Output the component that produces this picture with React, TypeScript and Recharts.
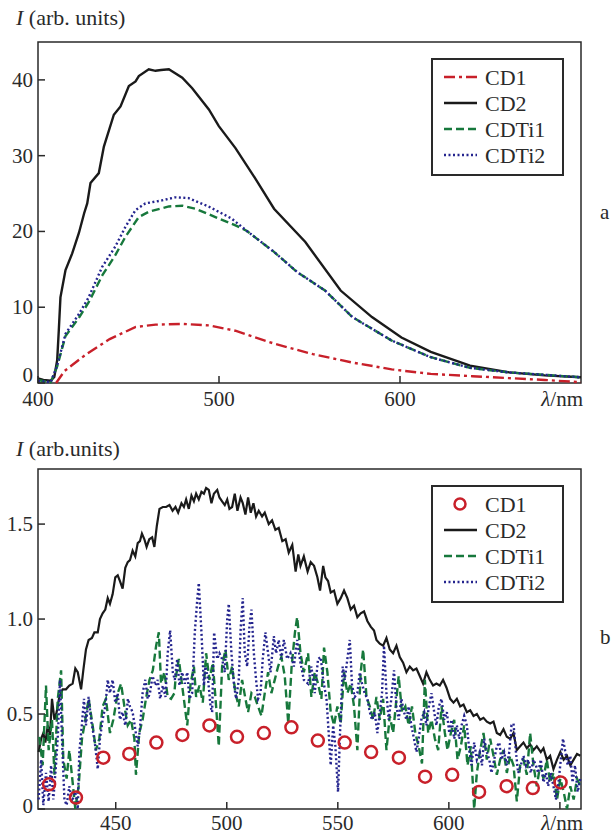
import { LineChart, ComposedChart, Line, Scatter, XAxis, YAxis, ReferenceArea, Legend } from 'recharts';

const SERIF = "'Liberation Serif', 'Times New Roman', serif";
const INK = '#2a2a2a';
const RED = '#c8202a';
const GREEN = '#17783c';
const BLUE = '#24248e';
const BLACK = '#1a1a1a';

// panel a: smooth spectra, [wavelength nm, intensity]
const cd1Top: [number, number][] = [
  [410, 0], [414.7, 1.6], [426.7, 3.8], [439.6, 5.8], [454, 7.4], [465, 7.7], [479.7, 7.8], [494.4, 7.6],
  [509, 6.9], [530.4, 5.2], [552, 3.8], [573.7, 2.7], [595.4, 1.8], [617, 1.2], [640, 0.9], [660, 0.65],
  [680, 0.4], [700, 0.1],
];
const cd2Top: [number, number][] = [
  [400, 0.6], [403, 0.4], [407, 0.3], [409, 0.8], [410.6, 3], [411.5, 7], [412.4, 11.3], [415.2, 14.9],
  [418.9, 17.1], [422.6, 19.8], [425.5, 22.4], [427.2, 23.7], [429, 26.4], [433.6, 27.7], [436.4, 31.2], [441.9, 35.4],
  [445.6, 36.5], [450.2, 39.2], [453.9, 39.8], [455.7, 40.5], [461.2, 41.4], [464.9, 41.2], [468, 41.3],
  [472.3, 41.4], [479.7, 40.3], [485.2, 38.9], [494.4, 36.1], [499.9, 33.9], [509.1, 31], [520, 27],
  [530.4, 23], [547.7, 18.6], [567.2, 12.2], [584.5, 8.7], [600.8, 6], [617, 4.1], [638.7, 2.3],
  [660.4, 1.4], [680, 1.0], [700, 0.75],
];
const cdti1Top: [number, number][] = [
  [400, 0.4], [404, 0.2], [407, 0.1], [410.6, 2.2], [415.2, 6.2], [422.6, 8.6], [428.1, 10.7], [435.5, 14.2],
  [442.8, 16.9], [448.3, 19.3], [455.7, 21.9], [461.2, 22.6], [472.3, 23.3], [479.7, 23.4], [487, 23.0],
  [498, 21.9], [509.1, 20.8], [515.2, 20.1], [530.4, 17.3], [543.4, 14.6], [558.6, 12.2], [573.7, 8.7],
  [595.4, 5.6], [617, 3.4], [638.7, 2.0], [660, 1.4], [700, 0.75],
];
const cdti2Top: [number, number][] = [
  [400, 0.3], [404, 0.2], [407, 0.1], [410.6, 2.3], [415.2, 6.5], [422.6, 9.1], [428, 11.3], [435.4, 15.3],
  [442.7, 18], [448.3, 20.6], [453.8, 22.8], [459.3, 23.7], [468.5, 24.1], [475.8, 24.5], [483.2, 24.4],
  [494.2, 23.3], [507, 21.7], [515.2, 20.1], [530.4, 17.3], [543.4, 14.6], [558.6, 12.2], [573.7, 8.7],
  [595.4, 5.6], [617, 3.4], [638.7, 2.0], [660, 1.4], [700, 0.75],
];
const topXTicks = [400, 500, 600, 700];
const topYTicks = [0, 10, 20, 30, 40];

// panel b: noisy spectra
const cd1Bottom: [number, number][] = [
  [420, 0.13], [432.1, 0.06], [444.4, 0.27], [456.1, 0.29], [468.3, 0.35], [480, 0.39], [492.2, 0.44],
  [504.6, 0.38], [516.7, 0.4], [529.1, 0.43], [541, 0.36], [553.1, 0.35], [565, 0.3], [577.5, 0.27],
  [589.3, 0.17], [601.5, 0.18], [613.6, 0.09], [626, 0.12], [637.8, 0.11], [650.3, 0.14],
];
const cd2Bottom: [number, number][] = [
  [415.3, 0.3], [416.4, 0.37], [417.4, 0.4], [418.3, 0.35], [419.4, 0.44], [420.4, 0.39], [421.3, 0.58],
  [422.4, 0.47], [423.4, 0.51], [424.6, 0.59], [426.1, 0.63], [427.6, 0.63], [429.1, 0.65], [430.6, 0.66],
  [431.8, 0.74], [432.9, 0.72], [434.4, 0.63], [435.4, 0.73], [436.6, 0.84], [437.8, 0.89], [439.3, 0.9],
  [440.4, 0.93], [441.9, 0.93], [442.9, 1.0], [444.1, 1.03], [445.3, 1.05], [446.4, 1.11], [447.4, 1.08],
  [448.6, 1.13], [449.8, 1.22], [450.9, 1.23], [451.9, 1.2], [453.1, 1.16], [454.3, 1.27], [455.4, 1.3],
  [456.4, 1.31], [457.6, 1.36], [458.8, 1.33], [459.9, 1.4], [460.9, 1.41], [461.8, 1.45], [462.9, 1.42],
  [463.9, 1.38], [465.1, 1.42], [466.4, 1.43], [467.4, 1.38], [468.5, 1.49], [469.7, 1.58], [471.2, 1.59],
  [472.7, 1.59], [474.2, 1.6], [475.6, 1.57], [476.9, 1.59], [478.1, 1.56], [479.6, 1.61], [480.7, 1.59],
  [481.7, 1.63], [482.9, 1.58], [484.1, 1.65], [485.2, 1.62], [486.2, 1.66], [487.4, 1.63], [488.6, 1.67],
  [489.7, 1.66], [490.7, 1.69], [491.9, 1.68], [493.1, 1.61], [494.2, 1.66], [495.7, 1.68], [496.7, 1.64],
  [497.9, 1.62], [499.1, 1.6], [500.2, 1.63], [501.2, 1.58], [502.4, 1.59], [503.6, 1.66], [504.8, 1.57],
  [506.2, 1.64], [507.2, 1.61], [508.4, 1.55], [509.6, 1.64], [510.8, 1.56], [512, 1.61], [513.2, 1.54],
  [514.4, 1.57], [515.9, 1.54], [517.1, 1.56], [518.9, 1.5], [520.4, 1.52], [521.9, 1.47], [523.4, 1.48],
  [525, 1.41], [526.5, 1.42], [527.9, 1.35], [529.5, 1.39], [531, 1.25], [532.2, 1.34], [533.2, 1.28],
  [534.7, 1.33], [536.4, 1.25], [537.8, 1.3], [539.3, 1.28], [540.8, 1.22], [542, 1.15], [543.4, 1.28],
  [544.4, 1.22], [545.6, 1.2], [546.8, 1.14], [548.3, 1.15], [549.8, 1.08], [551.3, 1.11], [552.8, 1.15],
  [554.3, 1.11], [555.8, 1.05], [557.3, 1.07], [558.8, 1.01], [560.3, 1.03], [561.8, 1.04], [563.3, 0.99],
  [564.8, 0.96], [566.3, 0.94], [567.4, 0.89], [568.9, 0.87], [570.4, 0.86], [571.9, 0.9], [573.4, 0.84],
  [574.9, 0.82], [576.4, 0.86], [577.9, 0.8], [579.4, 0.77], [580.9, 0.72], [582.4, 0.75], [583.9, 0.73],
  [585.4, 0.74], [586.9, 0.7], [588.4, 0.66], [589.9, 0.72], [591.4, 0.68], [592.9, 0.65], [594.4, 0.66],
  [595.9, 0.65], [597.4, 0.68], [598.9, 0.64], [600.6, 0.58], [602.1, 0.56], [603.6, 0.58], [605.1, 0.54],
  [606.6, 0.55], [608.1, 0.51], [609.6, 0.52], [611.1, 0.49], [612.6, 0.5], [614.1, 0.47], [615.6, 0.48],
  [617.1, 0.46], [618.6, 0.45], [620.1, 0.46], [621.6, 0.4], [623.1, 0.39], [624.6, 0.42], [626.1, 0.38],
  [627.6, 0.37], [629.1, 0.4], [630.6, 0.31], [632.1, 0.33], [633.6, 0.35], [635.1, 0.32], [636.6, 0.34],
  [638.1, 0.31], [639.6, 0.33], [641.4, 0.3], [642.6, 0.32], [644.1, 0.26], [645.6, 0.28], [647.1, 0.21],
  [648.7, 0.26], [650.2, 0.3], [651.7, 0.26], [653.2, 0.28], [654.7, 0.23], [656.2, 0.26], [657.7, 0.29],
  [659.2, 0.28],
];
const cdti1Bottom: [number, number][] = [
  [415.6, 0.38], [417.1, 0.23], [418.6, 0.65], [419.8, 0.31], [421.3, 0.47], [422.4, 0.18], [423.9, 0.58],
  [425.4, 0.73], [426.4, 0.26], [427.9, 0.16], [429.1, 0.31], [430.6, 0.14], [431.8, 0], [433.3, 0.12],
  [434.8, 0.37], [436.3, 0.47], [437.8, 0.58], [439.6, 0.44], [441.1, 0.31], [442.6, 0.37], [444.1, 0.54],
  [445.6, 0.58], [447.4, 0.4], [448.9, 0.47], [450.9, 0.61], [452.4, 0.66], [453.9, 0.54], [455.4, 0.44],
  [456.9, 0.47], [458.4, 0.37], [459.1, 0.18], [460.6, 0.4], [462.1, 0.47], [463.6, 0.58], [465.2, 0.68],
  [466.7, 0.73], [468.2, 0.86], [469.4, 0.93], [470.4, 0.66], [471.9, 0.72], [473.4, 0.59], [474.9, 0.58],
  [476.4, 0.61], [476.9, 0.68], [478.4, 0.79], [479.9, 0.65], [482.2, 0.44], [483.7, 0.66], [485.2, 0.75],
  [486.2, 0.59], [487.7, 0.65], [489.2, 0.56], [490.7, 0.82], [492.2, 0.68], [493.7, 0.77], [495.2, 0.54],
  [496.4, 0.33], [497.9, 0.75], [499.4, 0.84], [500.9, 0.68], [502.4, 0.75], [503.9, 0.61], [505.4, 0.54],
  [506.9, 0.68], [508.4, 0.58], [509.6, 0.51], [511.1, 0.61], [512.6, 0.59], [514.1, 0.54], [515.6, 0.49],
  [517.1, 0.61], [518.6, 0.72], [520.1, 0.61], [521.6, 0.68], [523.1, 0.75], [524.6, 0.8], [526.1, 0.7],
  [527.7, 0.45], [529.2, 0.75], [530.7, 0.93], [531.7, 1.01], [533.2, 0.82], [534.7, 0.72], [536.6, 0.82],
  [538.1, 0.59], [539.6, 0.72], [541.1, 0.66], [542.6, 0.58], [543.8, 0.85], [545.3, 0.72], [546.8, 0.51],
  [548.3, 0.44], [549.8, 0.54], [551.3, 0.45], [552.8, 0.72], [554.3, 0.61], [555.8, 0.66], [557.3, 0.54],
  [558.8, 0.31], [560.3, 0.72], [561.4, 0.84], [562.9, 0.59], [564.4, 0.54], [565.9, 0.47], [567.4, 0.59],
  [568.9, 0.47], [570.4, 0.58], [571.9, 0.31], [573.4, 0.49], [574.9, 0.4], [576.4, 0.58], [577.4, 0.7],
  [578.9, 0.51], [580.4, 0.54], [581.9, 0.44], [583.4, 0.54], [584.9, 0.4], [586.4, 0.33], [587.9, 0.24],
  [589.2, 0.68], [590.7, 0.4], [592.2, 0.47], [593.7, 0.37], [595.2, 0.31], [596.7, 0.54], [598.2, 0.4],
  [599.4, 0.31], [600.9, 0.4], [602.4, 0.47], [603.9, 0.26], [605.4, 0.33], [606.9, 0.44], [608.4, 0.23],
  [609.9, 0.33], [611.4, 0], [612.6, 0.19], [614.1, 0.31], [615.6, 0.4], [617.1, 0.26], [618.6, 0.37],
  [620.1, 0.28], [621.6, 0.18], [623.1, 0.26], [624.6, 0.31], [626.1, 0.19], [627.6, 0.28], [629.1, 0.23],
  [630.6, 0.04], [632.1, 0.23], [633.6, 0.26], [635.1, 0.18], [636.6, 0.4], [638.1, 0.23], [639.6, 0.12],
  [641.1, 0.23], [642.6, 0.16], [644.1, 0.26], [645.6, 0.14], [647.1, 0.19], [648.7, 0.05], [650.2, 0.16],
  [651.7, 0.09], [653.2, 0], [654.7, 0.12], [656.2, 0.05], [657.7, 0.16], [659.2, 0.12],
];
const cdti2Bottom: [number, number][] = [
  [415.3, 0.05], [416.4, 0.26], [417.4, 0.02], [418.6, 0.19], [419.8, 0.04], [420.9, 0.23], [421.9, 0.05],
  [423.1, 0.23], [424, 0.4], [424.9, 0.68], [425.8, 0.37], [426.9, 0.05], [427.9, 0.02], [429.1, 0.12],
  [430.3, 0.04], [431.8, 0.09], [432.9, 0], [433.6, 0.3], [434.8, 0.45], [435.7, 0.58], [436.6, 0.44],
  [437.8, 0.59], [438.9, 0.47], [439.9, 0.4], [440.8, 0.33], [441.9, 0.21], [442.9, 0.37], [444.1, 0.47],
  [445.3, 0.54], [446.4, 0.68], [447.4, 0.61], [448.6, 0.68], [449.8, 0.56], [450.9, 0.61], [451.9, 0.47],
  [453.1, 0.51], [454.3, 0.44], [455.5, 0.58], [456.4, 0.54], [457.6, 0.51], [458.8, 0.42], [459.9, 0.33],
  [460.9, 0.42], [462.1, 0.61], [463.3, 0.68], [464.4, 0.58], [465.4, 0.61], [466.6, 0.7], [467.9, 0.65],
  [468.9, 0.68], [470, 0.58], [471.2, 0.65], [472.4, 0.59], [473.4, 0.82], [474.5, 0.94], [475.7, 0.72],
  [476.6, 0.68], [477.7, 0.79], [478.7, 0.65], [479.9, 0.72], [481.1, 0.66], [482.2, 0.72], [483.2, 0.58],
  [484.4, 0.61], [485.6, 0.93], [486.7, 1.1], [487.4, 1.19], [488.6, 0.93], [489.7, 0.65], [490.4, 0.75],
  [491.6, 0.68], [492.7, 0.54], [493.4, 0.51], [494.3, 0.93], [495.7, 0.79], [496.7, 0.82], [497.9, 0.79],
  [499.1, 0.72], [500.2, 1.0], [500.9, 1.08], [502.1, 0.82], [503.2, 0.66], [504.2, 0.58], [505.4, 0.68],
  [506.3, 0.96], [507.2, 1.11], [508.1, 0.82], [509.2, 0.75], [510.2, 0.96], [511.1, 1.05], [512.2, 0.82],
  [513.2, 0.68], [514.1, 0.58], [515.2, 0.61], [516.2, 0.79], [517.4, 0.93], [518.6, 0.82], [519.7, 0.72],
  [521.2, 0.91], [522.2, 0.82], [523.4, 0.89], [524.6, 0.79], [525.7, 0.89], [527.2, 0.79], [528.7, 0.82],
  [530.2, 0.75], [531.7, 0.89], [533.2, 0.77], [534.7, 0.68], [536.6, 0.66], [538.1, 0.75], [539.6, 0.61],
  [541.1, 0.79], [542.3, 0.8], [543.4, 0.68], [544.9, 0.58], [545.9, 0.4], [546.8, 0.23], [547.9, 0.44],
  [548.9, 0.33], [550.1, 0.09], [551, 0.4], [552.2, 0.75], [553.1, 0.68], [554.3, 0.79], [555.4, 0.89],
  [556.4, 0.65], [557.6, 0.59], [558.8, 0.61], [559.9, 0.72], [560.9, 0.66], [562.1, 0.61], [563.3, 0.58],
  [564.4, 0.51], [565.4, 0.47], [566.6, 0.51], [567.8, 0.4], [568.9, 0.51], [569.9, 0.61], [570.8, 0.86],
  [571.9, 0.61], [572.9, 0.47], [574.1, 0.58], [575.3, 0.73], [576.4, 0.54], [577.4, 0.47], [578.6, 0.58],
  [579.8, 0.51], [580.9, 0.47], [581.9, 0.54], [583.1, 0.44], [584.3, 0.37], [585.4, 0.3], [586.4, 0.37],
  [587.6, 0.47], [588.9, 0.51], [589.9, 0.44], [591, 0.54], [592.2, 0.61], [593.4, 0.51], [594.4, 0.44],
  [595.5, 0.54], [596.7, 0.58], [597.9, 0.47], [599.1, 0.51], [600.2, 0.4], [601.2, 0.47], [602.4, 0.37],
  [603.6, 0.44], [604.7, 0.37], [605.7, 0.44], [606.9, 0.49], [608.1, 0.44], [609.2, 0.31], [610.2, 0.23],
  [611.4, 0.35], [612.6, 0.26], [613.9, 0.3], [614.9, 0.23], [615.9, 0.37], [617.1, 0.3], [618.2, 0.26],
  [619.2, 0.19], [620.4, 0.26], [621.6, 0.33], [622.7, 0.35], [623.7, 0.26], [624.9, 0.3], [626.1, 0.23],
  [627.2, 0.3], [628.2, 0.44], [629.1, 0.45], [630.2, 0.3], [631.2, 0.19], [632.4, 0.23], [633.6, 0.28],
  [634.7, 0.23], [635.7, 0.26], [636.9, 0.19], [638.1, 0.26], [639.2, 0.23], [640.2, 0.19], [641.4, 0.26],
  [642.6, 0.14], [643.7, 0.19], [644.7, 0.12], [645.9, 0.19], [647.1, 0.12], [648.2, 0.05], [649.2, 0.12],
  [650.4, 0.26], [651.4, 0.37], [652.3, 0.31], [653.5, 0.23], [654.7, 0.28], [655.7, 0.14], [656.8, 0.23],
  [658, 0.09], [659.2, 0.16],
];
const bottomXTicks = [450, 500, 550, 600, 650, 659.5];
const bottomYTicks = [0, 0.5, 1, 1.5];

const toPts = (arr: [number, number][]) => arr.map(([x, y]) => ({ x, y }));

type Entry = { name: string; color: string; dash?: string; marker?: boolean };

const topLegend: Entry[] = [
  { name: 'CD1', color: RED, dash: '11 4 3 4' },
  { name: 'CD2', color: BLACK },
  { name: 'CDTi1', color: GREEN, dash: '8 4' },
  { name: 'CDTi2', color: BLUE, dash: '2 2.5' },
];
const bottomLegend: Entry[] = [
  { name: 'CD1', color: RED, marker: true },
  { name: 'CD2', color: BLACK },
  { name: 'CDTi1', color: GREEN, dash: '8 4' },
  { name: 'CDTi2', color: BLUE, dash: '2 2.5' },
];

const txt = { fontFamily: SERIF };

/** Boxed legend, drawn as svg so the line samples keep their dash pattern. */
function LegendBox({ entries }: { entries: Entry[] }) {
  return (
    <svg width={133} height={118} style={{ display: 'block' }}>
      <rect x={1} y={1} width={131} height={116} fill="#fff" stroke={INK} strokeWidth={2} />
      {entries.map((e, i) => {
        const cy = 19 + i * 26;
        return (
          <g key={e.name}>
            {e.marker ? (
              <circle cx={29} cy={cy} r={5.5} fill="none" stroke={e.color} strokeWidth={2.5} />
            ) : (
              <line x1={13} y1={cy} x2={46} y2={cy} stroke={e.color} strokeWidth={2.4} strokeDasharray={e.dash} />
            )}
            <text x={54} y={cy} dominantBaseline="central" style={txt} fontSize={22} fill={INK}>
              {e.name}
            </text>
          </g>
        );
      })}
    </svg>
  );
}

function XTick({ x, y, payload, last, labelDy }: any) {
  const v = payload.value;
  if (v === last) {
    return (
      <text x={x + 2} y={y + labelDy} textAnchor="end" style={txt} fontSize={21} fill={INK}>
        <tspan fontStyle="italic">λ</tspan>/nm
      </text>
    );
  }
  return (
    <g>
      <line x1={x} y1={y} x2={x} y2={y - 7} stroke={INK} strokeWidth={1.5} />
      {v !== 650 && (
        <text x={x} y={y + labelDy} textAnchor="middle" style={txt} fontSize={21} fill={INK}>
          {v}
        </text>
      )}
    </g>
  );
}

function YTick({ x, y, payload, fmt, zeroLift }: any) {
  const lift = payload.value === 0 ? zeroLift : 0;
  return (
    <g>
      <line x1={x} y1={y} x2={x + 7} y2={y} stroke={INK} strokeWidth={1.5} />
      <text x={x - 5} y={y + lift} textAnchor="end" dominantBaseline="central" style={txt} fontSize={21} fill={INK}>
        {fmt(payload.value)}
      </text>
    </g>
  );
}

function AxisTitle({ top, text }: { top: number; text: string }) {
  return (
    <div style={{ position: 'absolute', left: 16, top, fontFamily: SERIF, fontSize: 22, color: INK, whiteSpace: 'nowrap', lineHeight: '24px' }}>
      <i>I</i> {text}
    </div>
  );
}

export default function App() {
  const legendWrap = { position: 'absolute' as const, left: 431, width: 133, height: 118 };
  return (
    <div style={{ position: 'absolute', left: 0, top: 0, width: 613, height: 834, background: '#fff', overflow: 'hidden' }}>
      <AxisTitle top={6} text="(arb. units)" />
      <div style={{ position: 'absolute', left: 0, top: 0 }}>
        <LineChart width={613} height={420} margin={{ top: 42, right: 32, bottom: 7, left: 0 }}>
          <XAxis
            type="number"
            dataKey="x"
            domain={[400, 700]}
            ticks={topXTicks}
            interval={0}
            axisLine={false}
            tickLine={false}
            tickSize={0}
            tickMargin={0}
            height={30}
            tick={(p: any) => <XTick {...p} last={700} labelDy={23} />}
          />
          <YAxis
            type="number"
            domain={[0, 45]}
            ticks={topYTicks}
            interval={0}
            axisLine={false}
            tickLine={false}
            tickSize={0}
            tickMargin={0}
            width={38}
            tick={(p: any) => <YTick {...p} zeroLift={-8} fmt={(v: number) => String(v)} />}
          />
          <Line data={toPts(cd1Top)} dataKey="y" stroke={RED} strokeWidth={2.4} strokeDasharray="11 4 3 4" dot={false} isAnimationActive={false} />
          <Line data={toPts(cd2Top)} dataKey="y" stroke={BLACK} strokeWidth={2.4} dot={false} isAnimationActive={false} />
          <Line data={toPts(cdti1Top)} dataKey="y" stroke={GREEN} strokeWidth={2.4} strokeDasharray="8 4" dot={false} isAnimationActive={false} />
          <Line data={toPts(cdti2Top)} dataKey="y" stroke={BLUE} strokeWidth={2.4} strokeDasharray="2 2.5" dot={false} isAnimationActive={false} />
          <ReferenceArea x1={400} x2={700} y1={0} y2={45} fill="none" stroke={INK} strokeWidth={1.5} ifOverflow="visible" />
          <Legend
            layout="vertical"
            align="center"
            verticalAlign="middle"
            wrapperStyle={{ ...legendWrap, top: 58 }}
            content={() => <LegendBox entries={topLegend} />}
          />
        </LineChart>
      </div>
      <div style={{ position: 'absolute', left: 600, top: 200, fontFamily: SERIF, fontSize: 21, color: INK }}>a</div>

      <AxisTitle top={437} text="(arb.units)" />
      <div style={{ position: 'absolute', left: 0, top: 430 }}>
        <ComposedChart width={613} height={404} margin={{ top: 39, right: 32, bottom: 0, left: 0 }}>
          <XAxis
            type="number"
            dataKey="x"
            domain={[415, 659.5]}
            ticks={bottomXTicks}
            interval={0}
            axisLine={false}
            tickLine={false}
            tickSize={0}
            tickMargin={0}
            height={25}
            tick={(p: any) => <XTick {...p} last={659.5} labelDy={21} />}
          />
          <YAxis
            type="number"
            dataKey="y"
            domain={[0, 1.79]}
            ticks={bottomYTicks}
            interval={0}
            axisLine={false}
            tickLine={false}
            tickSize={0}
            tickMargin={0}
            width={38}
            tick={(p: any) => <YTick {...p} zeroLift={-3} fmt={(v: number) => (v === 0 ? '0' : v.toFixed(1))} />}
          />
          <Line data={toPts(cd2Bottom)} dataKey="y" stroke={BLACK} strokeWidth={2.2} dot={false} isAnimationActive={false} />
          <Line data={toPts(cdti1Bottom)} dataKey="y" stroke={GREEN} strokeWidth={2.4} strokeDasharray="8 4" dot={false} isAnimationActive={false} />
          <Line data={toPts(cdti2Bottom)} dataKey="y" stroke={BLUE} strokeWidth={2.4} strokeDasharray="2 2.5" dot={false} isAnimationActive={false} />
          <Scatter
            data={toPts(cd1Bottom)}
            dataKey="y"
            isAnimationActive={false}
            shape={(p: any) => <circle cx={p.cx} cy={p.cy} r={6} fill="none" stroke={RED} strokeWidth={2.5} />}
          />
          <ReferenceArea x1={415} x2={659.5} y1={0} y2={1.79} fill="none" stroke={INK} strokeWidth={1.5} ifOverflow="visible" />
          <Legend
            layout="vertical"
            align="center"
            verticalAlign="middle"
            wrapperStyle={{ ...legendWrap, top: 55 }}
            content={() => <LegendBox entries={bottomLegend} />}
          />
        </ComposedChart>
      </div>
      <div style={{ position: 'absolute', left: 600, top: 625, fontFamily: SERIF, fontSize: 21, color: INK }}>b</div>
    </div>
  );
}
